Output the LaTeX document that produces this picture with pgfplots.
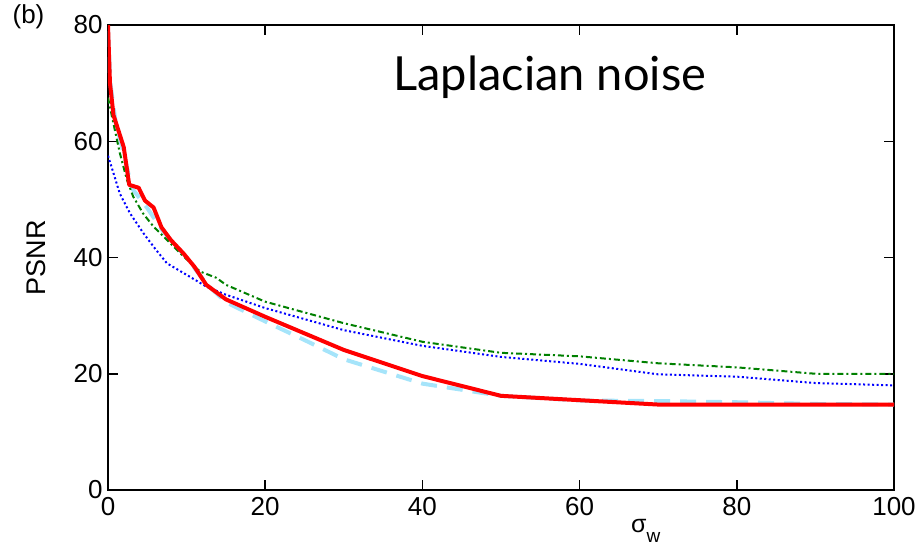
\documentclass[border=0pt]{standalone}
\usepackage{pgfplots}
\pgfplotsset{compat=1.18}
\usepackage{fontspec}
\setmainfont{Liberation Sans}
\newfontfamily\titlefont{Lato}
\definecolor{lblue}{RGB}{165,228,250}
\definecolor{dgreen}{RGB}{0,128,0}
\begin{document}
\begin{tikzpicture}
\useasboundingbox (-108pt,-57pt) rectangle (815pt,490pt);
\begin{axis}[
  scale only axis, width=786pt, height=465pt,
  xmin=0, xmax=100, ymin=0, ymax=80,
  xtick={0,20,...,100}, ytick={0,20,...,80},
  tick align=inside, major tick length=10pt,
  axis line style={line width=2pt},
  every tick/.style={black, line width=1.5pt},
  tick label style={font=\fontsize{26}{26}\selectfont},
  /pgf/number format/assume math mode=true,
  xticklabel style={yshift=-4pt},
  yticklabel style={xshift=-2pt},
  clip=true,
]
\addplot[lblue, line width=4pt, dash pattern=on 16pt off 10pt] coordinates {
(0,79) (0.3,70) (1,63) (2,58) (3,52) (5,48.5) (7,44.5) (10,40) (12.5,35.5) (15,32.3) (20,29) (25,25.8) (30,22.5) (40,18.3) (50,16.2) (60,15.4) (70,15.3) (80,15.1) (90,14.8) (100,14.7)};
\addplot[blue, line width=2pt, dash pattern=on 2pt off 2.5pt] coordinates {
(0,57.5) (0.7,54.5) (1.5,51) (2.8,47.6) (4.5,44.2) (6,41.5) (7.5,39) (10.4,36.7) (12.5,35) (15,33.6) (20,31.3) (30,27.5) (40,24.8) (50,22.9) (60,21.7) (70,19.9) (80,19.5) (90,18.4) (100,18.0)};
\addplot[dgreen, line width=2pt, dash pattern=on 6pt off 3pt on 2pt off 3pt] coordinates {
(0,67.5) (0.7,63) (1.5,58) (2.4,53.4) (3.2,50.5) (4.5,47.5) (5.8,45.3) (7.9,42.5) (9.6,40.2) (11.7,37.6) (13.8,36.5) (15,35.3) (20,32.4) (30,28.7) (40,25.5) (50,23.6) (60,23) (70,21.8) (80,21.1) (90,20) (100,20)};
\addplot[red, line width=4pt, line join=round] coordinates {
(0,80) (0.25,70) (0.7,64.5) (2,59) (2.7,52.5) (3.9,52) (4.7,49.8) (5.8,48.6) (6.8,45.2) (8,43) (9.6,40.7) (11,38.4) (12.5,35.3) (15,32.8) (20,29.8) (30,24.1) (40,19.6) (50,16.2) (70,14.7) (100,14.7)};
\node[anchor=base, font=\titlefont\fontsize{47}{47}\selectfont] at (axis cs:56.2,68.8) {Laplacian noise};
\end{axis}
\node[rotate=90, font=\fontsize{27}{27}\selectfont] at (-71.5pt,232pt) {PSNR};
\node[font=\fontsize{26}{26}\selectfont] at (-79.5pt,473pt) {(b)};
\node[anchor=base west, font=\fontsize{25}{25}\selectfont, inner sep=0pt] at (523pt,-42pt) {σ\raisebox{-10pt}{\fontsize{19}{19}\selectfont w}};
\end{tikzpicture}
\end{document}
